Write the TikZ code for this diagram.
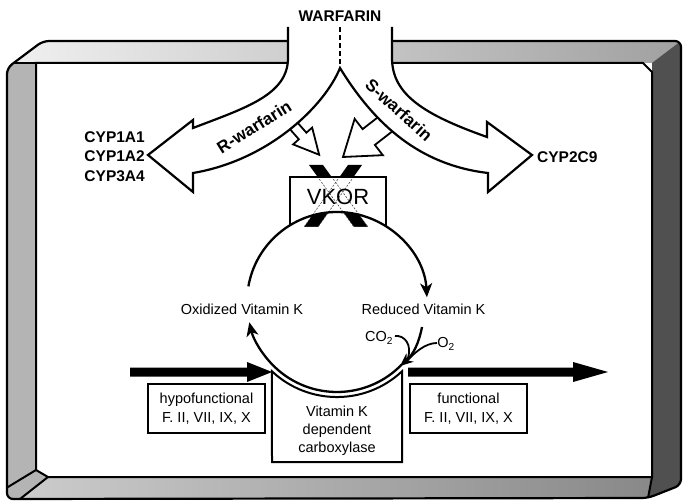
\documentclass[tikz,border=0pt]{standalone}
\usepackage{fontspec}
\setmainfont{Liberation Sans}
\usetikzlibrary{arrows.meta}
\definecolor{lstrip}{HTML}{B4B4B4}
\definecolor{rstrip}{HTML}{505050}
\begin{document}
\begin{tikzpicture}[x=1pt,y=-1pt,
  lab/.style={font=\fontsize{14.5}{18}\selectfont, inner sep=0pt, align=center},
  blab/.style={font=\fontsize{15.5}{18}\selectfont\bfseries, inner sep=0pt},
  rlab/.style={font=\fontsize{17}{19}\selectfont\bfseries, inner sep=0pt},
  frameline/.style={line width=2pt, line join=miter},
  fork/.style={line width=2.2pt, line join=miter},
  cyc/.style={line width=2.3pt, -{Stealth[length=14pt,width=12pt,inset=4pt]}},
  thin/.style={line width=1.8pt},
  fbox/.style={draw, line width=2pt, minimum width=117pt, minimum height=49pt, inner sep=0pt, align=center, font=\fontsize{14.5}{19}\selectfont},
  xdash/.style={line width=0.6pt, black!70, dash pattern=on 2pt off 1.5pt},
]
\useasboundingbox (0,0) rectangle (685,502);

% ---------------- frame ----------------
\begin{scope}
  \clip[rounded corners=6pt] (7,300) -- (7,68) -- (43,41) -- (681,41) -- (681,485) -- (648,498) -- (7,499) -- cycle;
  \fill[left color=gray!12, right color=gray!74] (13.7,63) -- (43,41) -- (681,41) -- (681,63) -- cycle;
  \fill[rstrip] (652,63) -- (681,41) -- (681,485) -- (648,498) -- (652,477) -- cycle;
  \fill[lstrip] (0,63) -- (36,63) -- (36,470) -- (0,491.6) -- cycle;
  \fill[lstrip] (36,470) -- (48,477) -- (20,499) -- (0,502) -- (0,491.6) -- cycle;
  \fill[left color=gray!40, right color=gray!93] (48,477) -- (652,477) -- (648,498) -- (20,499) -- cycle;
\end{scope}
\fill[white] (36,63) -- (643,63) -- (652,72) -- (652,477) -- (48,477) -- (36,470) -- cycle;
\draw[frameline] (36,63) -- (643,63) -- (652,72) -- (652,477) -- (48,477) -- (36,470) -- cycle;
\draw[frameline] (13.7,63) -- (36,63);
\draw[frameline] (36,470) -- (7,487.6);
\draw[frameline] (48,477) -- (20,499);
\draw[frameline] (652,477) -- (648,498);
\draw[line width=2.2pt, rounded corners=6pt] (7,300) -- (7,68) -- (43,41) -- (681,41) -- (681,485) -- (648,498) -- (7,499) -- cycle;

% ---------------- small hollow arrows ----------------
\begin{scope}[shift={(289.4,121)}, rotate=-48.6]
  \filldraw[fill=white, line width=1.8pt, line join=miter] (0,5) -- (20,5) -- (20,12.7) -- (45,0) -- (20,-12.7) -- (20,-5) -- (0,-5);
\end{scope}
\begin{scope}[shift={(387.7,122.3)}, rotate=217.8]
  \filldraw[fill=white, line width=1.8pt, line join=miter] (0,10) -- (24,10) -- (24,23) -- (56.6,0) -- (24,-23) -- (24,-10) -- (0,-10);
\end{scope}

% ---------------- forked warfarin arrow ----------------
\coordinate (fk) at (340,68);
\fill[white] (288,27) -- (288,58) .. controls (288,95) and (245,108) .. (193,128) -- (193,120) -- (148,155) -- (193,192) -- (193,173)
   .. controls (270,160) and (325,105) .. (fk) .. controls (375,125) and (420,165) .. (488,173) -- (488,192) -- (532,155) -- (487,122) -- (487,137)
   .. controls (425,115) and (392,95) .. (392,58) -- (392,27) -- cycle;
\draw[fork] (288,27) -- (288,58) .. controls (288,95) and (245,108) .. (193,128) -- (193,120) -- (148,155) -- (193,192) -- (193,173)
   .. controls (270,160) and (325,105) .. (fk) .. controls (375,125) and (420,165) .. (488,173) -- (488,192) -- (532,155) -- (487,122) -- (487,137)
   .. controls (425,115) and (392,95) .. (392,58) -- (392,27);
\coordinate (dtop) at (340,27);
\draw[line width=1.8pt, dash pattern=on 5pt off 3pt] (dtop) -- (fk);

% ---------------- X over VKOR ----------------
\coordinate (C) at (337,302);
\fill[black] (309,165) -- (323,165) -- (368,227) -- (354,227) -- cycle;
\fill[black] (348,165) -- (362,165) -- (318,227) -- (304,227) -- cycle;
\fill[white, even odd rule] (290,177) rectangle (386,227) (C) circle[radius=90pt];
\begin{scope}
  \clip (290,177) rectangle (386,227);
  \draw[xdash] (309,165) -- (354,227) (323,165) -- (368,227) (348,165) -- (304,227) (362,165) -- (318,227);
\end{scope}
\draw[line width=2pt] (290,225.5) -- (290,177) -- (386,177) -- (386,226.5);
\node[font=\fontsize{22}{24}\selectfont, inner sep=0pt] (vkor) at (338,197) {VKOR};

% ---------------- carboxylase box ----------------
\filldraw[fill=white, line width=2pt] (402,371.3) arc[start angle=-46.8, end angle=-133.2, radius=95pt] -- (272,462) -- (402,462) -- cycle;
\node[lab, font=\fontsize{14.5}{18}\selectfont] (carb) at (337,431) {Vitamin K\\dependent\\carboxylase};

% ---------------- vitamin K cycle ----------------
\draw[cyc] (C) ++(170:90pt) arc[start angle=170, end angle=3, radius=90pt];
\draw[cyc] (C) ++(-44:90pt) arc[start angle=-44, end angle=-167, radius=90pt];
\node[lab] (oxk) at (242,309) {Oxidized Vitamin K};
\node[lab] (redk) at (423.5,309) {Reduced Vitamin K};
\coordinate (rstart) at (422,327);
\coordinate (rend) at (400,366);
\draw[line width=2.3pt, -{Stealth[length=13pt,width=11pt,inset=4pt]}] (rstart) .. controls (419,343) and (413,355) .. (rend);
\node[lab] (co2) at (379,338) {CO\textsubscript{2}};
\node[lab] (o2) at (446,344) {O\textsubscript{2}};
\draw[thin] (395,336) .. controls (405,335) and (412,345) .. (408,358);
\draw[thin] (437,343) .. controls (425,343) and (414,353) .. (405,363);

% ---------------- horizontal factor arrows ----------------
\fill[black] (130,367.5) -- (247,367.5) -- (247,362) -- (272,372) -- (247,382) -- (247,376.5) -- (130,376.5) -- cycle;
\fill[black] (408,367.5) -- (573,367.5) -- (573,362) -- (608,372) -- (573,382) -- (573,376.5) -- (408,376.5) -- cycle;
\node[fbox] (hypo) at (206.5,408.5) {hypofunctional\\F. II, VII, IX, X};
\node[fbox] (func) at (468.5,408.5) {functional\\F. II, VII, IX, X};

% ---------------- labels ----------------
\node[blab] (warf) at (340,16) {WARFARIN};
\node[blab, anchor=east] (cyp1) at (145,137) {CYP1A1};
\node[blab, anchor=east] (cyp2) at (145,156.5) {CYP1A2};
\node[blab, anchor=east] (cyp3) at (145,176) {CYP3A4};
\node[blab, anchor=west] (cyp29) at (537,157) {CYP2C9};
\node[rlab, rotate=32] (rw) at (254,127) {R-warfarin};
\node[rlab, rotate=-42] (sw) at (399,110) {S-warfarin};
\end{tikzpicture}
\end{document}
